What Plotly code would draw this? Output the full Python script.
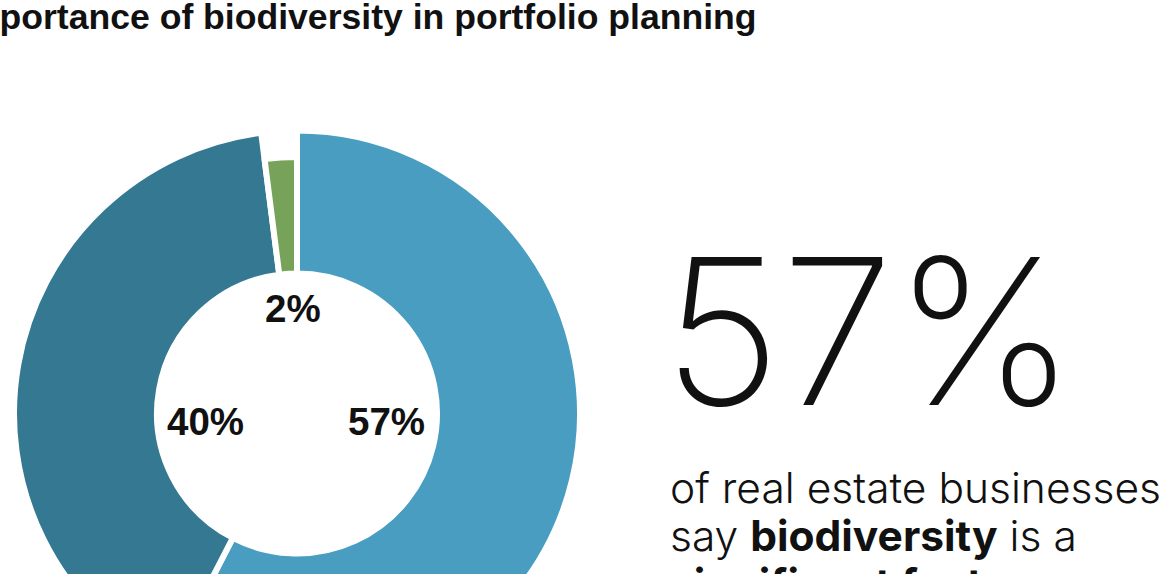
import plotly.graph_objects as go

# Share of real estate businesses by how important biodiversity is in portfolio planning
categories = ["Significant factor", "Minor factor", "Not a factor"]
shares = [57, 40, 2]
colors = ["#489DC1", "#347892", "#76A359"]

title_text = "Importance of biodiversity in portfolio planning"
headline_value = shares[0]
body_lines = [
    "of real estate businesses",
    "say <b>biodiversity</b> is a",
    "<b>significant factor</b>",
]

W, H = 1174, 720


def px(x):
    return x / W


def py(y):
    return 1 - y / H


# donut geometry (pixels)
cx, cy = 297, 413.5
r_outer, r_small, r_inner = 283, 256.5, 140
edge = 6


def dom(r):
    return dict(x=[px(cx - r), px(cx + r)], y=[py(cy + r), py(cy - r)])


fig = go.Figure()

# main ring: the two large slices
fig.add_trace(go.Pie(
    labels=categories, values=shares, sort=False, direction="clockwise", rotation=0,
    hole=r_inner / r_outer, domain=dom(r_outer),
    marker=dict(colors=[colors[0], colors[1], "rgba(0,0,0,0)"],
                line=dict(color="white", width=[edge, edge, 0])),
    textinfo="none", hoverinfo="label+percent", showlegend=False,
))

# smallest slice drawn on a slightly narrower ring
fig.add_trace(go.Pie(
    labels=categories, values=shares, sort=False, direction="clockwise", rotation=0,
    hole=r_inner / r_small, domain=dom(r_small),
    marker=dict(colors=["rgba(0,0,0,0)", "rgba(0,0,0,0)", colors[2]],
                line=dict(color="white", width=[0, 0, edge])),
    textinfo="none", hoverinfo="label+percent", showlegend=False,
))

label_pos = [(386, 421.5), (205.5, 421.5), (293, 308)]
annotations = []
for v, (x, y) in zip(shares, label_pos):
    annotations.append(dict(
        x=px(x), y=py(y), xref="paper", yref="paper", xanchor="center", yanchor="middle",
        text=f"<b>{v}%</b>", showarrow=False,
        font=dict(family="Liberation Sans, Arial, sans-serif", size=38.5, color="#111111"),
    ))

annotations.append(dict(
    x=px(-44), y=py(-5), xref="paper", yref="paper", xanchor="left", yanchor="top",
    text=f"<b>{title_text}</b>", showarrow=False,
    font=dict(family="Liberation Sans, Arial, sans-serif", size=35.6, color="#111111"),
))

annotations.append(dict(
    x=px(869), y=py(331), xref="paper", yref="paper", xanchor="center", yanchor="middle",
    text=f"{headline_value}%", showarrow=False,
    font=dict(family="Inter, Roboto, sans-serif", size=204, color="#111111", weight=200),
))

for i, line in enumerate(body_lines):
    annotations.append(dict(
        x=px(668), y=py(487 + 48 * i), xref="paper", yref="paper", xanchor="left", yanchor="middle",
        text=line, showarrow=False,
        font=dict(family="Inter, Roboto, sans-serif", size=42.5, color="#111111", weight=300),
    ))

fig.update_layout(
    width=W, height=H,
    margin=dict(l=0, r=0, t=0, b=0),
    paper_bgcolor="white", plot_bgcolor="white",
    showlegend=False,
    annotations=annotations,
)

fig.write_html(
    "out.html",
    post_script="document.documentElement.style.overflow='hidden';document.body.style.overflow='hidden';document.body.style.margin='0';",
)
